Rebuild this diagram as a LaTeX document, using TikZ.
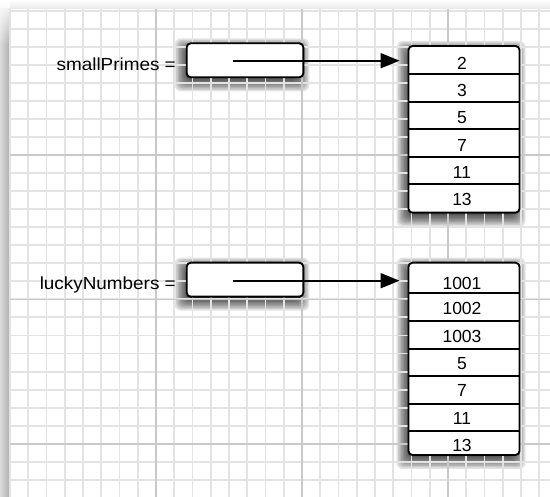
\documentclass[tikz,border=0pt]{standalone}
\usepackage{fontspec}
\setmainfont{Liberation Sans}
\newfontfamily\labelfont{Liberation Sans}[FakeStretch=1.08]
\usetikzlibrary{arrows.meta,fadings,calc}
\newcommand\mkshadow[4]{%
  \foreach \e in {-6,-4.5,...,9}{%
    \fill[black,opacity=0.11,rounded corners=6pt] ({#1-3-\e},{#2+4-\e}) rectangle ({#3-3+\e},{#4+5+\e});
  }}
\begin{document}
\begin{tikzpicture}[x=1pt,y=-1pt,
  minorline/.style={draw=black!11,line width=1.9pt},
  majorline/.style={draw=black!21,line width=1.6pt},
  refbox/.style={draw=black,line width=1.9pt,fill=white,rounded corners=4pt,inner sep=0pt},
  cellsep/.style={draw=black,line width=1.9pt},
  numtext/.style={font=\fontsize{17.5}{17.5}\selectfont,anchor=base,inner sep=0pt},
  vartext/.style={font=\labelfont\fontsize{17.5}{17.5}\selectfont,anchor=base east,inner sep=0pt},
  ptr/.style={line width=1.7pt,-{Triangle[length=19pt,width=15pt]}},
]
\useasboundingbox (0,0) rectangle (550,497);
% background and page shadow
\fill[white] (0,0) rectangle (550,497);
\fill[top color=white,bottom color=black!9] (0,0) rectangle (550,9);
\fill[left color=black!14,right color=black!32] (0,9) rectangle (10,497);
\fill[white,path fading=south] (0,0) rectangle (10,45);
% box shadows
\mkshadow{186.7}{43.3}{303.3}{77.3}
\mkshadow{186.7}{262.7}{303.3}{296.7}
\mkshadow{408.5}{46}{519.5}{212.7}
\mkshadow{408.5}{262.7}{519.5}{455}
% grid
\foreach \k in {0,...,29} \draw[minorline] ({10+18.25*\k},9) -- ({10+18.25*\k},497);
\foreach \k in {0,...,26} \draw[minorline] (10,{10.6+18.05*\k}) -- (550,{10.6+18.05*\k});
\foreach \k in {8,16,24} \draw[majorline] ({10+18.25*\k},9) -- ({10+18.25*\k},497);
\foreach \k in {8,16,24} \draw[majorline] (10,{10.6+18.05*\k}) -- (550,{10.6+18.05*\k});
% reference boxes
\node[refbox,minimum width=116.6pt,minimum height=34pt] (b1) at (245,60.3) {};
\node[refbox,minimum width=116.6pt,minimum height=34pt] (b2) at (245,279.7) {};
\node[vartext] (l1) at (176,71) {smallPrimes =};
\node[vartext] (l2) at (176,290) {luckyNumbers =};
% arrays
\node[refbox,minimum width=111pt,minimum height=166.7pt] (a1) at (464,129.35) {};
\node[refbox,minimum width=111pt,minimum height=192.3pt] (a2) at (464,358.85) {};
\foreach \y in {74,101.7,129.3,156.7,184.3} \draw[cellsep] (408.5,\y) -- (519.5,\y);
\foreach \y in {293.3,321,348.7,376.3,403.7,431.3} \draw[cellsep] (408.5,\y) -- (519.5,\y);
\node[numtext] (c11) at (462,70) {2};
\node[numtext] (c12) at (462,96.7) {3};
\node[numtext] (c13) at (462,124) {5};
\node[numtext] (c14) at (462,151.7) {7};
\node[numtext] (c15) at (462,179) {11};
\node[numtext] (c16) at (462,206) {13};
\node[numtext] (c21) at (462,289.3) {1001};
\node[numtext] (c22) at (462,315) {1002};
\node[numtext] (c23) at (462,342.3) {1003};
\node[numtext] (c24) at (462,370) {5};
\node[numtext] (c25) at (462,396.7) {7};
\node[numtext] (c26) at (462,425) {11};
\node[numtext] (c27) at (462,452) {13};
% pointers
\coordinate (p1) at (233,60.7);
\coordinate (p2) at (233,280.7);
\draw[ptr,shorten >=8pt] (p1) -- (p1 -| a1.west);
\draw[ptr,shorten >=8pt] (p2) -- (p2 -| a2.west);
\end{tikzpicture}
\end{document}
